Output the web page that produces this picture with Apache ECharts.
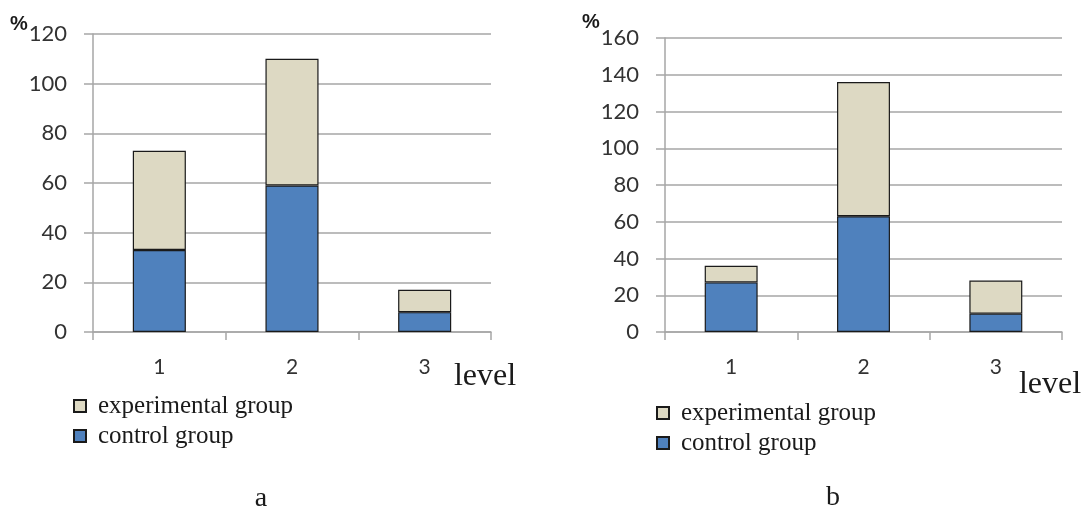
<!DOCTYPE html>
<html>
<head>
<meta charset="utf-8">
<script src="https://cdn.jsdelivr.net/npm/echarts@6/dist/echarts.min.js"></script>
<style>
  html, body { margin: 0; padding: 0; background: #fff; }
  #main { width: 1084px; height: 508px; }
</style>
</head>
<body>
<div id="main"></div>
<script>
// level categories
const categories = ['1', '2', '3'];
// chart a
const aControl = [33, 59, 8];
const aExperimental = [40, 51, 9];
const aMax = 120;
// chart b
const bControl = [27, 63, 10];
const bExperimental = [9, 73, 18];
const bMax = 160;
const yStep = 20;

const names = ['experimental group', 'control group'];
const blue = '#4f81bd';
const beige = '#ddd9c3';
const gray = '#a6a6a6';
const sans = 'Lato';
const serif = 'Liberation Serif';

function xAxisOf(grid) {
  return {
    type: 'category',
    gridIndex: grid,
    data: categories,
    axisLine: { lineStyle: { color: gray, width: 1.5 } },
    axisTick: { show: true, length: 8, lineStyle: { color: gray, width: 1.5 } },
    axisLabel: { margin: 25, fontFamily: sans, fontSize: 21, color: '#333' }
  };
}

function yAxisOf(grid, max) {
  return {
    type: 'value',
    gridIndex: grid,
    min: 0,
    max: max,
    interval: yStep,
    axisLine: { show: true, lineStyle: { color: gray, width: 1.5 } },
    axisTick: { show: true, length: 9, lineStyle: { color: gray, width: 1.5 } },
    splitLine: { lineStyle: { color: gray, width: 1.5 } },
    axisLabel: { margin: 26, fontFamily: sans, fontSize: 22, color: '#333' }
  };
}

function barOf(name, data, color, grid) {
  return {
    name: name,
    type: 'bar',
    stack: 'total' + grid,
    xAxisIndex: grid,
    yAxisIndex: grid,
    data: data,
    barWidth: '40%',
    itemStyle: { color: color, borderColor: '#1a1a1a', borderWidth: 1.2 }
  };
}

function legendOf(left, top) {
  return {
    data: names,
    orient: 'vertical',
    left: left,
    top: top,
    padding: 0,
    itemGap: 0,
    itemWidth: 12,
    itemHeight: 12,
    icon: 'rect',
    selectedMode: false,
    textStyle: {
      fontFamily: serif,
      fontSize: 25,
      lineHeight: 30,
      color: '#1a1a1a',
      padding: [0, 0, 0, 7]
    }
  };
}

function textOf(text, x, y, size, bold, family) {
  return {
    type: 'text',
    x: x,
    y: y,
    style: {
      text: text,
      font: (bold ? 'bold ' : '') + size + 'px "' + family + '"',
      fill: '#1a1a1a',
      align: 'center',
      verticalAlign: 'middle'
    }
  };
}

const chart = echarts.init(document.getElementById('main'), null, { renderer: 'canvas' });

const option = {
  backgroundColor: '#fff',
  animation: false,
  grid: [
    { left: 93, top: 34, width: 398, height: 298 },
    { left: 665, top: 38, width: 397, height: 294 }
  ],
  xAxis: [xAxisOf(0), xAxisOf(1)],
  yAxis: [yAxisOf(0, aMax), yAxisOf(1, bMax)],
  legend: [legendOf(73, 391), legendOf(656, 398)],
  series: [
    barOf(names[1], aControl, blue, 0),
    barOf(names[0], aExperimental, beige, 0),
    barOf(names[1], bControl, blue, 1),
    barOf(names[0], bExperimental, beige, 1)
  ],
  graphic: [
    textOf('%', 19, 24, 20, true, 'Liberation Sans'),
    textOf('%', 591, 22, 20, true, 'Liberation Sans'),
    textOf('level', 485, 377, 32, false, serif),
    textOf('level', 1050, 385, 32, false, serif),
    textOf('a', 261, 499, 28, false, serif),
    textOf('b', 833, 498, 28, false, serif)
  ]
};

chart.setOption(option);
</script>
</body>
</html>
